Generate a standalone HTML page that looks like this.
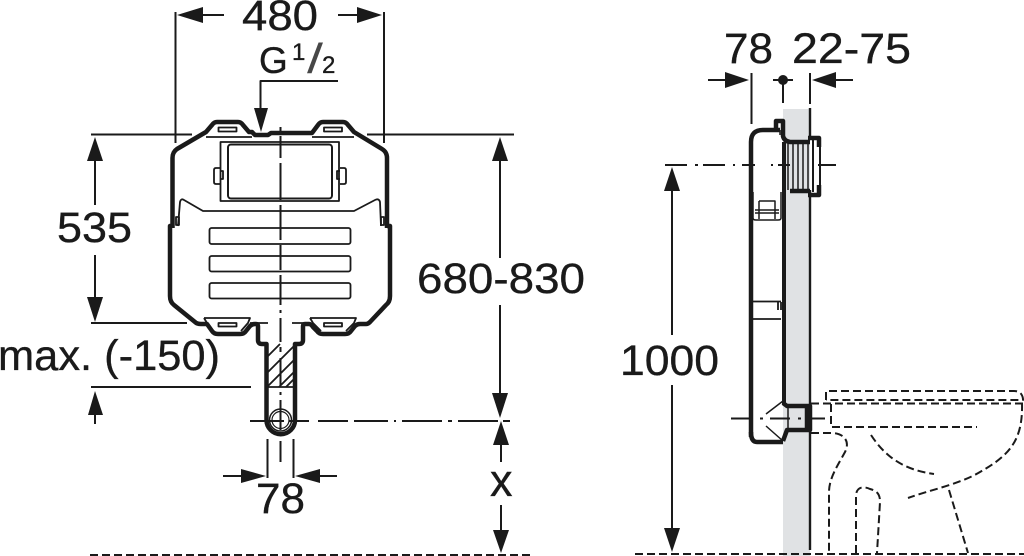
<!DOCTYPE html>
<html><head><meta charset="utf-8"><style>
html,body{margin:0;padding:0;background:#fff}
svg{display:block}
text{font-family:"Liberation Sans",sans-serif;fill:#1a1a1a;stroke:#1a1a1a;stroke-width:.35}
</style></head><body>
<svg width="1024" height="556" viewBox="0 0 1024 556" xmlns="http://www.w3.org/2000/svg">
<rect x="783" y="109" width="27" height="447" fill="#e0e2e4"/>

<!-- FRONT VIEW -->
<g fill="none" stroke="#1a1a1a" stroke-linejoin="round">
<path stroke-width="4.500" d="M172.500 228V158Q172.500 152 177 149L206 132L212 125Q214 122 217 122H238Q241 122 243 125L249 132H252L255 135H268L271 133H312L318 125Q320 122 323 122H343Q346 122 348 125L354 132L382 149Q387 152 387 158V228"/>
<path stroke-width="4.500" d="M172 226H170V296Q170 302 174 305L195 322Q197 324 201 324H207L212 331Q214 334 218 334H240Q244 334 246 331L250 326Q252 324 255 324H256Q258 324 258 326V340Q258 344 262 344H266.500V420A14 14 0 0 0 295 420V344H299Q303 344 303 340V326Q303 324 305 324H309Q311 324 313 327L317 331Q319 334 323 334H345Q349 334 351 331L355 326Q357 324 360 324H366Q368 324 370 322L386 305Q390 302 390 296V226H387"/>
<circle cx="280.500" cy="420" r="11" stroke-width="1.500"/>
<circle cx="280.500" cy="420" r="8.500" stroke-width="1.200"/>
<g stroke-width="1.800">
<path d="M206 137H252M312 137H354"/>
<rect x="218.500" y="127.500" width="18" height="4"/>
<rect x="324" y="127.500" width="18" height="4"/>
<rect x="220.500" y="142" width="118.500" height="59"/>
<rect x="228" y="144.500" width="104" height="54" rx="3" stroke-width="2"/>
<path d="M220 168H216Q214 168 214 170V182Q214 184 216 184H220M220 171H223V179H220"/>
<path d="M340 168H344Q346 168 346 170V182Q346 184 344 184H340M340 171H337V179H340"/>
<path d="M178 226L180 202Q181 198 184 200L203 211H354L375 200Q379 198 380 202L381 226"/>
<path d="M176 217H179V225H176ZM381 217H384V225H381Z"/>
<rect x="209.500" y="228" width="141" height="16" rx="2"/>
<rect x="209.500" y="256" width="141" height="15.500" rx="2"/>
<rect x="209.500" y="283" width="141" height="15.500" rx="2"/>
<path d="M204 318H250L248 323L241 331M204 318L207 323L213 331M310 318H356L354 323L346 331M310 318L313 323L321 331"/>
<rect x="218.500" y="323" width="18" height="3.500"/>
<rect x="324" y="323" width="18" height="3.500"/>
<path d="M250 323H268M292 323H308"/>
<path d="M268 387H294"/>
<path d="M268 356L280 344M268 372L296 344M268 386L294 360M279 387L294 372M286 387L294 379"/>
</g>
<path stroke-width="2" d="M280.500 127V131M280.500 136V158M280.500 163V200M280.500 205V240M280.500 245V270M280.500 275V305M280.500 310V313M280.500 318V342M280.500 347V352M280.500 358V385M280.500 392V395M280.500 400V430"/>
<path stroke-width="2" d="M250 421H284M289 421H309M318 421H348M354 421H388M394 421H396M402 421H442M448 421H452M458 421H498M503 421H510"/>
<!-- dimension lines -->
<g stroke-width="2">
<path d="M175.500 12V143M384 12V143M91 134.500H192M367 134.500H514"/>
<path d="M198 15H224M338 15H362"/>
<path d="M338 81H260.500V110"/>
<path d="M95 158V205M95 255V300M91 323H187"/>
<path d="M500 155V258M500 305V400"/>
<path d="M91 387H251M95 410V424"/>
<path d="M267.500 439V478M293.500 439V478M280.500 441V462M223 476H250M312 476H337"/>
<path d="M501 440V462M501 505V535"/>
</g>
<path stroke-width="2" stroke-dasharray="8 4" d="M90 555H530"/>
</g>
<g fill="#1a1a1a">
<path d="M177 15L203 7V23Z"/><path d="M382 15L357 7V23Z"/>
<path d="M261 132L254 108H268Z"/>
<path d="M95 137L87 161H103Z"/><path d="M95 322L87 297H103Z"/>
<path d="M500 137L492 161H508Z"/><path d="M500 418L492 393H508Z"/>
<path d="M95 391L88 415H103Z"/>
<path d="M266 476L241 469V483Z"/><path d="M295 476L320 469V483Z"/>
<path d="M501 421L493 445H509Z"/><path d="M501 553L493 530H509Z"/>
</g>

<!-- SIDE VIEW -->
<g fill="none" stroke="#1a1a1a" stroke-linejoin="round">
<path stroke-width="4.500" d="M751 437V142Q751 130 763 130H780"/>
<path stroke-width="4.500" d="M751 432Q751 442 757 442H783"/>
<path stroke-width="4.500" d="M776 130V121H783V136Q784 141 790 142H810M808 138H819V147M819 185V195H808M790 191H810"/>
<path stroke-width="4" d="M784 142V405"/>
<path stroke-width="2.400" d="M810 190V550M810 108V138"/>
<path stroke-width="2" d="M820 147V185M813 140V192"/>
<path stroke-width="1.500" d="M788 143V190M793 143V190M798 143V190M803 143V190M808 143V190"/>
<path stroke-width="1.500" d="M780 130V135M753 192V218Q753 220 756 220H778Q781 220 781 218V192M759 201H775V219M759 201V219M755 210H779M755 213H779"/>
<path stroke-width="1.800" d="M752 301.500H781M752 319H781M778 302V310M781 302V310"/>
<path stroke-width="4.500" d="M783 403L787 406H810V430H787L783 441M807 407V429"/>
<path stroke-width="1.500" d="M783 401L766 414M766 426L783 441M788 408V430"/>
<!-- dims -->
<g stroke-width="2">
<path d="M751.500 73V124M810 73V104M783 80V103M773 80H793"/>
<path d="M708 80H728M833 80H853"/>
<path d="M672 190V335M672 385V530"/>
<path d="M665 165H687M695 165H698M703 165H725M733 165H735M742 165H755M771 165H773M778 165H790M818 165H836"/>
<path d="M731 418.500H750M760 418.500H763M770 418.500H790M798 418.500H801M812 418.500H825"/>
</g>
<g stroke-width="2" stroke-dasharray="8 4">
<path d="M635 554H1024"/>
<path d="M826 400V391H1014Q1022 391 1023 399V400H826"/>
<path d="M811 403.500H1023"/>
<path d="M831 404V427H977"/>
<path d="M1022 403C1023 440 1010 455 980 472C960 484 930 490 908 498"/>
<path d="M871 435C886 458 905 470 934 474"/>
<path d="M811 433H833C845 434 850 442 845 452C838 465 829 478 829 492V553"/>
<path d="M856 553V495C857 485 866 487 870 489C878 491 880 495 880 502L877 553"/>
<path d="M949 490L968 553"/>
</g>
</g>
<g fill="#1a1a1a">
<circle cx="783" cy="80" r="5"/>
<path d="M749 80L725 72V88Z"/><path d="M812 80L836 72V88Z"/>
<path d="M672 167L664 191H680Z"/><path d="M672 552L664 528H680Z"/>
</g>

<!-- TEXT -->
<text x="242" y="30" font-size="43" textLength="76" lengthAdjust="spacingAndGlyphs">480</text>
<text x="259" y="73" font-size="37">G</text>
<text x="292" y="60" font-size="24">1</text>
<text x="307" y="73" font-size="42" textLength="16" lengthAdjust="spacingAndGlyphs" style="stroke:none;font-weight:normal" opacity=".8">/</text>
<text x="322" y="73" font-size="24">2</text>
<text x="57" y="242" font-size="43" textLength="75" lengthAdjust="spacingAndGlyphs">535</text>
<text x="417" y="293" font-size="43" textLength="168" lengthAdjust="spacingAndGlyphs">680-830</text>
<text x="-2" y="370" font-size="43" textLength="222" lengthAdjust="spacingAndGlyphs">max. (-150)</text>
<text x="256" y="513" font-size="43" textLength="49" lengthAdjust="spacingAndGlyphs">78</text>
<text x="490" y="496" font-size="45">x</text>
<text x="620" y="375" font-size="43" textLength="99" lengthAdjust="spacingAndGlyphs">1000</text>
<text x="724" y="63" font-size="43" textLength="49" lengthAdjust="spacingAndGlyphs">78</text>
<text x="792" y="63" font-size="43" textLength="119" lengthAdjust="spacingAndGlyphs">22-75</text>
</svg>
</body></html>
